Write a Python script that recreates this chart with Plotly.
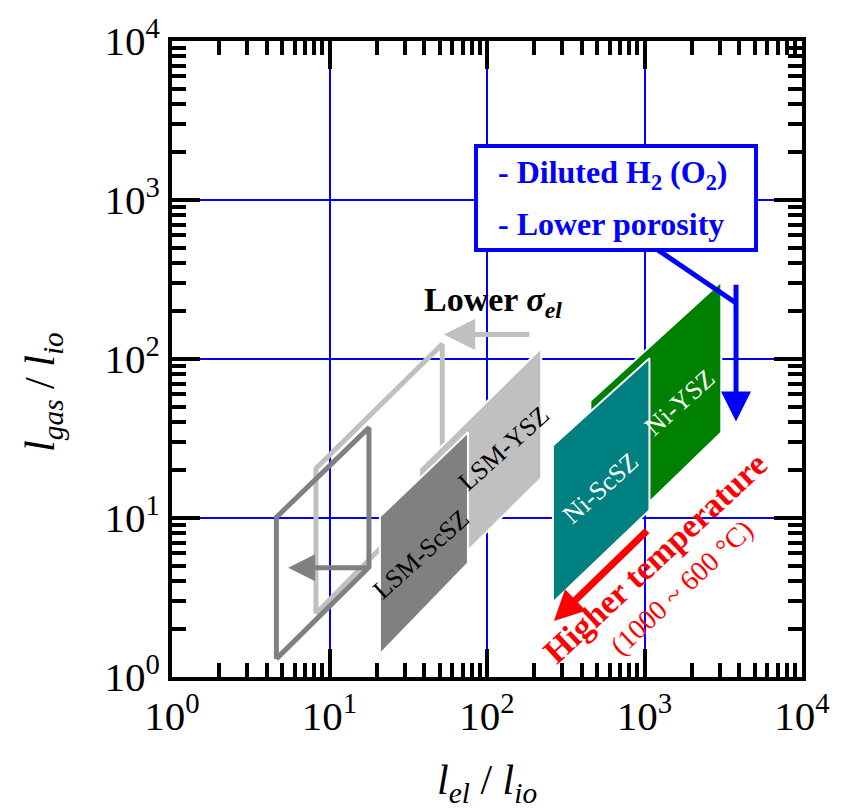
import math
import plotly.graph_objects as go

# ---- axes: decades and their labels ----
tick_vals = [1, 10, 100, 1000, 10000]
tick_text = ["10<sup>0</sup>", "10<sup>1</sup>", "10<sup>2</sup>", "10<sup>3</sup>", "10<sup>4</sup>"]

# ---- electrode regions (corners: bottom-left, top-left, top-right, bottom-right) ----
lsm_scsz_x = [20.9, 20.9, 75.7, 75.7]
lsm_scsz_y = [1.39, 10.2, 34.6, 5.2]
lsm_ysz_x = [37, 37, 221, 221]
lsm_ysz_y = [3.1, 20.5, 117, 17.8]
ni_scsz_x = [262, 262, 1075, 1075]
ni_scsz_y = [2.94, 28.6, 101, 11.2]
ni_ysz_x = [453, 453, 3073, 3073]
ni_ysz_y = [5.5, 54.6, 307, 34.5]

# regions for a lower electronic conductivity
lsm_scsz_low_x = [4.6, 4.6, 17.8, 17.8]
lsm_scsz_low_y = [1.3, 10.1, 37, 4.9]
lsm_ysz_low_x = [8.2, 8.2, 52, 52]
lsm_ysz_low_y = [2.5, 20.5, 124, 16.0]

# ---- trend arrows: (tail, head) ----
sigma_scsz_arrow_x = [17.8, 5.46]
sigma_scsz_arrow_y = [4.87, 4.87]
sigma_ysz_arrow_x = [190, 53.3]
sigma_ysz_arrow_y = [142.6, 142.6]
gas_leader_x = [1177, 3812]
gas_leader_y = [496, 225]
gas_arrow_x = [3812, 3812]
gas_arrow_y = [300, 40.4]
temp_arrow_x = [1059, 266]
temp_arrow_y = [8.5, 2.25]

SERIF = "Liberation Serif, Times New Roman, serif"
L = math.log10


def closed(v):
    return list(v) + [v[0]]


fig = go.Figure()

# outlines drawn first, light one underneath
for xs, ys, col in [
    (lsm_ysz_low_x, lsm_ysz_low_y, "#c0c0c0"),
    (lsm_scsz_low_x, lsm_scsz_low_y, "#808080"),
]:
    fig.add_trace(go.Scatter(
        x=closed(xs), y=closed(ys), mode="lines",
        line=dict(color=col, width=5), hoverinfo="skip", showlegend=False,
    ))

# filled regions with a thin white rim
for xs, ys, col in [
    (lsm_ysz_x, lsm_ysz_y, "#c0c0c0"),
    (lsm_scsz_x, lsm_scsz_y, "#808080"),
    (ni_ysz_x, ni_ysz_y, "#008000"),
    (ni_scsz_x, ni_scsz_y, "#008080"),
]:
    fig.add_trace(go.Scatter(
        x=closed(xs), y=closed(ys), mode="lines", fill="toself",
        fillcolor=col, line=dict(color="white", width=2),
        hoverinfo="skip", showlegend=False,
    ))

# leader from the note box
fig.add_trace(go.Scatter(
    x=gas_leader_x, y=gas_leader_y, mode="lines",
    line=dict(color="#0000ff", width=5), hoverinfo="skip", showlegend=False,
))

annotations = []


def arrow(xs, ys, color, width, size):
    annotations.append(dict(
        x=L(xs[1]), y=L(ys[1]), ax=L(xs[0]), ay=L(ys[0]),
        xref="x", yref="y", axref="x", ayref="y", text="",
        showarrow=True, arrowhead=2, arrowsize=size, arrowwidth=width,
        arrowcolor=color, standoff=0,
    ))


arrow(sigma_scsz_arrow_x, sigma_scsz_arrow_y, "#808080", 5, 1.08)
arrow(sigma_ysz_arrow_x, sigma_ysz_arrow_y, "#c0c0c0", 5, 1.25)
arrow(gas_arrow_x, gas_arrow_y, "#0000ff", 5, 1.2)
arrow(temp_arrow_x, temp_arrow_y, "#ff0000", 7, 0.86)


def label(text, x, y, size, color="black", angle=0, weight="normal", **kw):
    d = dict(x=x, y=y, xref="x", yref="y", text=text, showarrow=False,
             textangle=angle, font=dict(family=SERIF, size=size, color=color, weight=weight))
    d.update(kw)
    annotations.append(d)


label("LSM-ScSZ", 1.581, 0.769, 26, angle=-42)
label("LSM-YSZ", 2.106, 1.4375, 26, angle=-42)
label("Ni-ScSZ", 2.719, 1.1875, 26, color="white", angle=-42)
label("Ni-YSZ", 3.225, 1.725, 26, color="white", angle=-42)
label("Lower <i>σ<sub>el</sub></i>", 2.04, 2.36, 34, weight="bold")
label("Higher temperature", 3.07, 0.75, 34, color="#ff0000", angle=-43, weight="bold")
label("(1000 ~ 600 °C)", 3.235, 0.565, 28, color="#ff0000", angle=-43)

# note box
annotations.append(dict(
    x=2.822, y=3.0125, xref="x", yref="y", text=" ", showarrow=False,
    width=276, height=100, borderwidth=4, borderpad=0,
    bordercolor="#0000ff", bgcolor="white", font=dict(size=10),
))
label("- Diluted H<sub>2</sub> (O<sub>2</sub>)", 2.06, 3.16, 32, color="#0000ff",
      weight="bold", xanchor="left")
label("- Lower porosity", 2.06, 2.85, 32, color="#0000ff", weight="bold", xanchor="left")

# axis titles
TITLE_FONT = dict(family=SERIF, size=42, color="black")
annotations.append(dict(
    x=0.5, y=-0.166, xref="paper", yref="paper", xanchor="center", yanchor="middle",
    showarrow=False, font=TITLE_FONT,
    text="<i>l</i><sub><i>el</i></sub> / <i>l</i><sub><i>io</i></sub>",
))
annotations.append(dict(
    x=-0.205, y=0.448, xref="paper", yref="paper", xanchor="center", yanchor="middle",
    showarrow=False, textangle=-90, font=TITLE_FONT,
    text="<i>l</i><sub><i>gas</i></sub> / <i>l</i><sub><i>io</i></sub>",
))

minor_vals = [m * 10 ** d for d in range(4) for m in range(2, 10)]

axis_common = dict(
    type="log", range=[0, 4],
    showline=True, linecolor="black", linewidth=4, mirror="allticks",
    ticks="inside", ticklen=28, tickwidth=4, tickcolor="black",
    tickmode="array", tickvals=tick_vals, ticktext=tick_text,
    tickfont=dict(family=SERIF, size=41, color="black"),
    showgrid=True, gridcolor="#0000ff", gridwidth=2, zeroline=False,
    minor=dict(tickmode="array", tickvals=minor_vals, ticks="inside",
               ticklen=14, tickwidth=4, tickcolor="black", showgrid=False),
)

fig.update_layout(
    width=842, height=810,
    margin=dict(l=172, r=30, t=37, b=133),
    paper_bgcolor="white", plot_bgcolor="white",
    xaxis=axis_common,
    yaxis=axis_common,
    annotations=annotations,
)

fig.write_html("out.html")
